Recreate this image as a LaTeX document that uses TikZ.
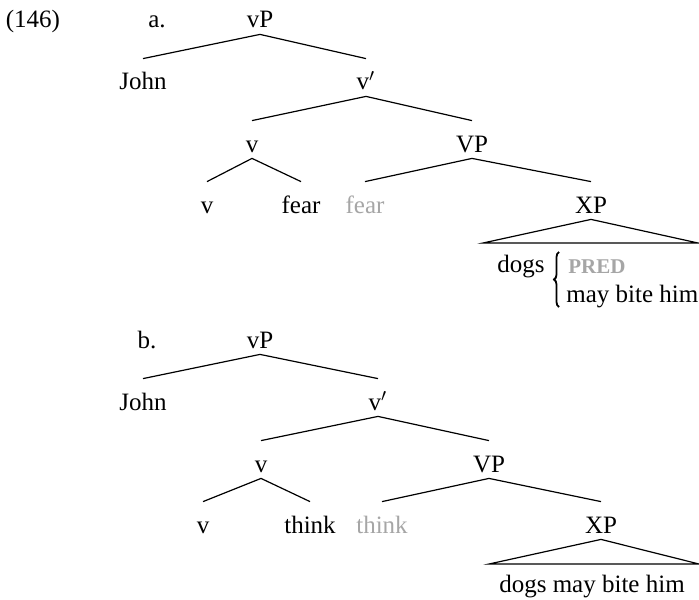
\documentclass[tikz,border=0pt]{standalone}
\usepackage{fontspec}
\setmainfont{Liberation Serif}
\usetikzlibrary{decorations.pathreplacing}
\definecolor{trace}{gray}{0.65}
\tikzstyle{cat} = [inner sep=0pt, anchor=base, text height=15.5pt, text depth=3pt, font=\fontsize{12.5}{15}\selectfont]
\tikzstyle{copy} = [cat, text=trace]
\tikzstyle{edge} = [line width=0.6pt]

\begin{document}
\begin{tikzpicture}[x=0.5pt,y=-0.5pt]
        \useasboundingbox (0,0) rectangle (699,599);
        \node [cat] at (33,28) (ex) {(146)};
        \node [cat] at (157,28) (la) {a.};
        \node [cat] at (260,28) (vPa) {vP};
        \node [cat] at (143,90) (johna) {John};
        \node [cat] at (366,90) (vbara) {v$'$};
        \node [cat] at (252,152) (va) {v};
        \node [cat] at (472,152) (VPa) {VP};
        \node [cat] at (207,213) (vva) {v};
        \node [cat] at (301,213) (feara) {fear};
        \node [copy] at (365,213) (fearta) {fear};
        \node [cat] at (591,213) (XPa) {XP};
        \coordinate (tla) at (483,243);
        \coordinate (tra) at (698,243);
        \node [cat] at (521,272) (dogsa) {dogs};
        \node [copy, anchor=base west, font=\fontsize{10.5}{12}\selectfont\bfseries] at (568,273) (pred) {PRED};
        \node [cat, anchor=base west] at (566,302) (bitea) {may bite him};
        \coordinate (bra) at (559,307);
        \coordinate (brb) at (559,252);
        \draw [edge] (vPa.south) -- (johna.north);
        \draw [edge] (vPa.south) -- (vbara.north);
        \draw [edge] (vbara.south) -- (va.north);
        \draw [edge] (vbara.south) -- (VPa.north);
        \draw [edge] (va.south) -- (vva.north);
        \draw [edge] (va.south) -- (feara.north);
        \draw [edge] (VPa.south) -- (fearta.north);
        \draw [edge] (VPa.south) -- (XPa.north);
        \draw [edge] (XPa.south) -- (tla) -- (tra) -- cycle;
        \draw [line width=0.9pt, decorate, decoration={brace, amplitude=2.5pt}] (bra) -- (brb);

        \node [cat] at (147,348) (lb) {b.};
        \node [cat] at (260,348) (vPb) {vP};
        \node [cat] at (143,410) (johnb) {John};
        \node [cat] at (378,410) (vbarb) {v$'$};
        \node [cat] at (261,472) (vb) {v};
        \node [cat] at (489,472) (VPb) {VP};
        \node [cat] at (203,533) (vvb) {v};
        \node [cat] at (310,533) (thinkb) {think};
        \node [copy] at (382,533) (thinktb) {think};
        \node [cat] at (601,533) (XPb) {XP};
        \coordinate (tlb) at (489,564);
        \coordinate (trb) at (699,564);
        \node [cat] at (592,592) (biteb) {dogs may bite him};
        \draw [edge] (vPb.south) -- (johnb.north);
        \draw [edge] (vPb.south) -- (vbarb.north);
        \draw [edge] (vbarb.south) -- (vb.north);
        \draw [edge] (vbarb.south) -- (VPb.north);
        \draw [edge] (vb.south) -- (vvb.north);
        \draw [edge] (vb.south) -- (thinkb.north);
        \draw [edge] (VPb.south) -- (thinktb.north);
        \draw [edge] (VPb.south) -- (XPb.north);
        \draw [edge] (XPb.south) -- (tlb) -- (trb) -- cycle;
        \end{tikzpicture}
\end{document}
